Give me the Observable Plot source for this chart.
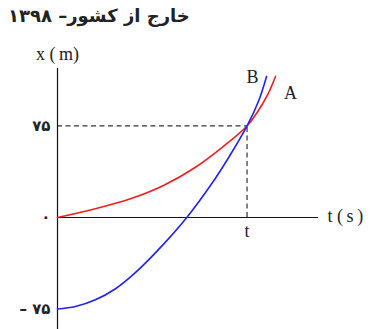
<!DOCTYPE html>
<html>
<head>
<meta charset="utf-8">
<script src="https://cdn.jsdelivr.net/npm/d3@7"></script>
<script src="https://cdn.jsdelivr.net/npm/@observablehq/plot@0.6"></script>
<style>
  html, body { margin: 0; padding: 0; background: #fff; }
  #wrap { position: relative; width: 370px; height: 329px; overflow: hidden; }
  #title {
    position: absolute; left: 8px; top: 5px;
    direction: rtl; font-family: "DejaVu Sans", sans-serif;
    font-weight: bold; font-size: 18px; color: #222; white-space: nowrap;
  }
  #wrap svg { position: absolute; left: 0; top: 0; }
</style>
</head>
<body>
<div id="wrap">
  <div id="chart"></div>
  <div id="title">خارج از کشور– ۱۳۹۸</div>
</div>
<script>
// Position–time curves of two bodies (t in arbitrary units; they meet at t = 10)
const timeA = [0, 2, 3.85, 5.59, 7.28, 8.69, 10, 10.54, 11.07, 11.5];
const posA  = [0, 7.2, 15.3, 26.2, 41.2, 57.5, 75, 86.3, 100, 115.6];
const timeB = [0, 0.95, 2.0, 3.06, 4.12, 5.61, 6.81, 8.07, 9.04, 10, 10.62, 11.03];
const posB  = [-75, -73, -67.5, -58.4, -45, -21.6, -0.2, 26.2, 49.4, 75, 95.9, 115.6];

const seriesNames = ["A", "B"];
const seriesColors = ["#f21d1d", "#2222ee"];

// axis extents and tick labels
const tMax = 13.77;
const xMin = -91.8, xMax = 122.1;
const meetTime = 10, meetPos = 75;
const yTicks = [75, 0, -75];
const yTickLabels = ["۷۵", "۰", "– ۷۵"];
const tTickLabel = "t";
const yTitle = "x (\u2009m)";
const tTitle = "t (\u2009s\u2009)";

const rows = [
  ...timeA.map((t, i) => ({series: "A", t, x: posA[i]})),
  ...timeB.map((t, i) => ({series: "B", t, x: posB[i]}))
];
const endOf = s => rows.filter(d => d.series === s).at(-1);

const serif = "Liberation Serif, Times New Roman, serif";

const plot = Plot.plot({
  width: 370,
  height: 329,
  marginLeft: 57,
  marginRight: 52,
  marginTop: 68,
  marginBottom: 0,
  style: {background: "transparent", overflow: "visible"},
  x: {domain: [0, tMax], axis: null},
  y: {domain: [xMin, xMax], axis: null},
  color: {domain: seriesNames, range: seriesColors},
  marks: [
    // guide lines to the meeting point
    Plot.ruleY([meetPos], {x1: 0, x2: meetTime, stroke: "#333", strokeWidth: 1.2, strokeDasharray: "5,3.5"}),
    Plot.ruleX([meetTime], {y1: 0, y2: meetPos, stroke: "#333", strokeWidth: 1.2, strokeDasharray: "5,3.5"}),
    // axes
    Plot.ruleX([0], {stroke: "#111", strokeWidth: 1.2}),
    Plot.ruleY([0], {x1: 0, x2: tMax, stroke: "#111", strokeWidth: 1.2}),
    Plot.text(yTicks, {
      x: 0, y: d => d, text: (d, i) => yTickLabels[i],
      textAnchor: "end", dx: -7, fontSize: 15, fontWeight: "bold",
      fontFamily: "DejaVu Sans, sans-serif", fill: "#222"
    }),
    Plot.text([meetTime], {
      x: d => d, y: 0, text: () => tTickLabel, dy: 14,
      fontSize: 18, fontFamily: serif, fill: "#222"
    }),
    Plot.text([yTitle], {
      frameAnchor: "top-left", text: d => d, dy: -14,
      textAnchor: "middle", lineAnchor: "middle",
      fontSize: 18, fontFamily: serif, fill: "#222"
    }),
    Plot.text([tTitle], {
      x: tMax, y: 0, text: d => d, dx: 9, dy: -1, textAnchor: "start",
      fontSize: 18, fontFamily: serif, fill: "#222"
    }),
    // curves
    Plot.line(rows, {
      x: "t", y: "x", z: "series", stroke: "series",
      strokeWidth: 1.6, curve: "catmull-rom"
    }),
    // curve names next to their upper ends
    Plot.text([endOf("A")], {
      x: "t", y: "x", text: "series", dx: 15, dy: 17,
      fontSize: 18, fontFamily: serif, fill: "#222"
    }),
    Plot.text([endOf("B")], {
      x: "t", y: "x", text: "series", dx: -14, dy: 1,
      fontSize: 18, fontFamily: serif, fill: "#222"
    })
  ]
});

document.getElementById("chart").appendChild(plot);
</script>
</body>
</html>
